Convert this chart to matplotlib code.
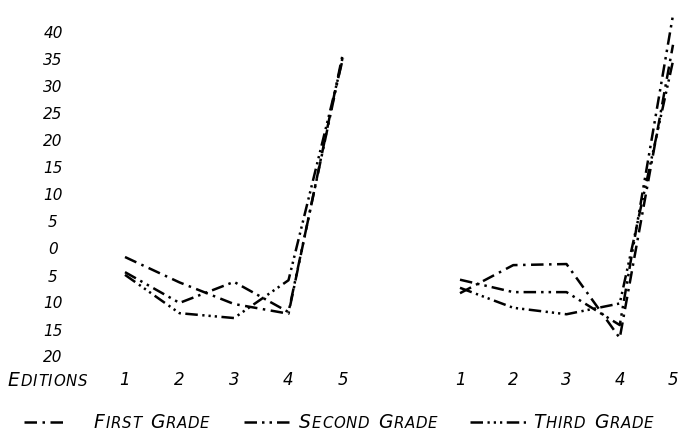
import matplotlib
matplotlib.use("Agg")
import matplotlib.pyplot as plt
from matplotlib.lines import Line2D

# ---- data ----
editions = [1, 2, 3, 4, 5]
edition_labels = ["1", "2", "3", "4", "5"]
left_first = [-1.3, -6.0, -10.0, -11.8, 36.5]
left_second = [-4.1, -9.8, -5.9, -11.5, 36.0]
left_third = [-4.6, -11.7, -12.6, -5.6, 35.5]
right_first = [-8.0, -2.8, -2.6, -16.3, 38.0]
right_second = [-5.5, -7.8, -7.8, -13.9, 43.5]
right_third = [-7.0, -10.7, -11.9, -9.9, 35.0]
ytick_values = [40, 35, 30, 25, 20, 15, 10, 5, 0, -5, -10, -15, -20]
ytick_labels = ["40", "35", "30", "25", "20", "15", "10", "5", "0", "5", "10", "15", "20"]
series_names = ["First Grade", "Second Grade", "Third Grade"]

W, H = 682, 441
fig = plt.figure(figsize=(W / 100, H / 100), dpi=100)
fig.patch.set_facecolor("white")

styles = [
    (0, (5, 2.2, 1.0, 2.2)),
    (0, (5, 2.0, 1.0, 2.0, 1.0, 2.0)),
    (0, (5, 1.8, 0.9, 1.6, 0.9, 1.6, 0.9, 1.8)),
]
LW = 1.8
FONT = "DejaVu Sans"

def px_axes(l, r, t, b):
    return fig.add_axes([l / W, 1 - b / H, (r - l) / W, (b - t) / H])

# y mapping: value 0 at px 250, 5.4 px per unit
def ylim_for(t, b):
    return ((250 - b) / 5.4, (250 - t) / 5.4)

# left panel: 1 -> 125px, 5 -> 343px
axL = px_axes(100, 372, 5, 370)
axL.set_xlim(1 + (100 - 125) / 54.5, 1 + (372 - 125) / 54.5)
axL.set_ylim(*ylim_for(5, 370))
# right panel: 1 -> 460px, 5 -> 673px
axR = px_axes(435, 682, 5, 370)
axR.set_xlim(1 + (435 - 460) / 53.25, 1 + (682 - 460) / 53.25)
axR.set_ylim(*ylim_for(5, 370))

for ax, data in ((axL, (left_first, left_second, left_third)),
                 (axR, (right_first, right_second, right_third))):
    ax.axis("off")
    ax.patch.set_alpha(0)
    for vals, ls in zip(data, styles):
        ax.plot(editions, vals, color="black", lw=LW, linestyle=ls,
                solid_capstyle="butt", dash_capstyle="butt", clip_on=False)
    for xv, lab in zip(editions, edition_labels):
        ax.text(xv, 1 - (380 - 5) / 365, lab, transform=ax.get_xaxis_transform(),
                ha="center", va="center", fontsize=12, style="italic",
                family=FONT, color="black")

# y tick labels
for v, lab in zip(ytick_values, ytick_labels):
    axL.text(53 / W, v, lab, transform=matplotlib.transforms.blended_transform_factory(fig.transFigure, axL.transData),
             ha="center", va="center", fontsize=11, style="italic", family=FONT, color="black")

renderer = fig.canvas.get_renderer()

def smallcaps(x_px, y_px, s, big=13.5, small=10.8, track=0.8, gap=8):
    x = x_px
    words = s.upper().split(" ")
    for wi, word in enumerate(words):
        for i, ch in enumerate(word):
            size = big if i == 0 else small
            t = fig.text(x / W, 1 - y_px / H, ch, fontsize=size, style="italic",
                         family=FONT, ha="left", va="baseline", color="black")
            bb = t.get_window_extent(renderer)
            x += bb.width + track
        if wi < len(words) - 1:
            x += gap
    return x

smallcaps(8, 386, "Editions")

# legend
legend_items = [
    (24, 64, 94),
    (244, 294, 299),
    (470, 528, 533),
]
for (x0, x1, tx), name, ls in zip(legend_items, series_names, styles):
    fig.add_artist(Line2D([x0 / W, x1 / W], [1 - 422 / H, 1 - 422 / H],
                          transform=fig.transFigure, color="black", lw=LW,
                          linestyle=ls, dash_capstyle="butt"))
    smallcaps(tx, 428, name)

fig.savefig("out.png", dpi=100, facecolor="white")
